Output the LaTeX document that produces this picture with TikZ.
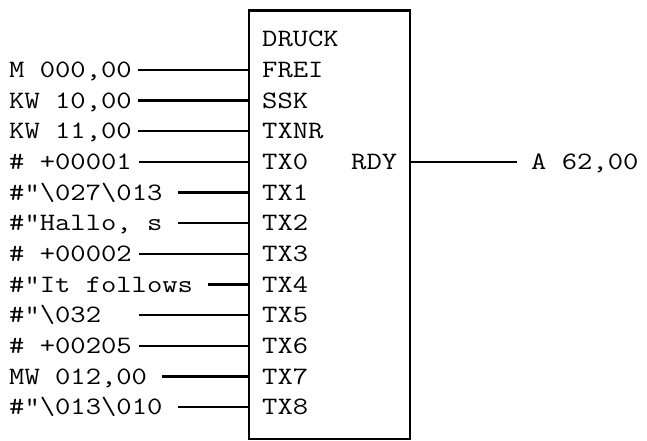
\documentclass[tikz,border=0pt]{standalone}
\usepackage{fontspec}
\setmonofont{Latin Modern Mono}[FakeStretch=1.19]
\begin{document}
\begin{tikzpicture}[x=1pt,y=-1pt,
  font=\ttfamily\fontsize{25}{25}\selectfont,
  lab/.style={inner sep=0pt, anchor=base west},
  wire/.style={line width=2.3pt}]
\useasboundingbox (0,0) rectangle (647,441);
\node[draw, line width=2.3pt, inner sep=0pt, minimum width=161.5pt, minimum height=428.7pt, anchor=north west] (box) at (247.5,9.3) {};
\node[lab] (title) at (262,46.4) {DRUCK};
\foreach \i/\L/\R/\s in {
  0/{M 000,00}/FREI/138,
  1/{KW 10,00}/SSK/138,
  2/{KW 11,00}/TXNR/138,
  3/{\# +00001}/TX0/139,
  4/{\#"\textbackslash 027\textbackslash 013}/TX1/178,
  5/{\#"Hallo, s}/TX2/178,
  6/{\# +00002}/TX3/139,
  7/{\#"It follows}/TX4/208,
  8/{\#"\textbackslash 032}/TX5/139,
  9/{\# +00205}/TX6/139,
  10/{MW 012,00}/TX7/162,
  11/{\#"\textbackslash 013\textbackslash 010}/TX8/178}{
  \pgfmathsetmacro{\yy}{70+30.65*\i}
  \node[lab] (l\i) at (9,\yy+7.5) {\L};
  \node[lab] (r\i) at (262,\yy+7.5) {\R};
  \coordinate (s\i) at (\s,\yy);
  \draw[wire] (s\i) -- (s\i -| box.west);
}
\node[lab] (rdy) at (351,169.45) {RDY};
\coordinate (e) at (517,161.95);
\draw[wire] (e -| box.east) -- (e);
\node[lab] (out) at (531,169.45) {A 62,00};
\end{tikzpicture}
\end{document}
